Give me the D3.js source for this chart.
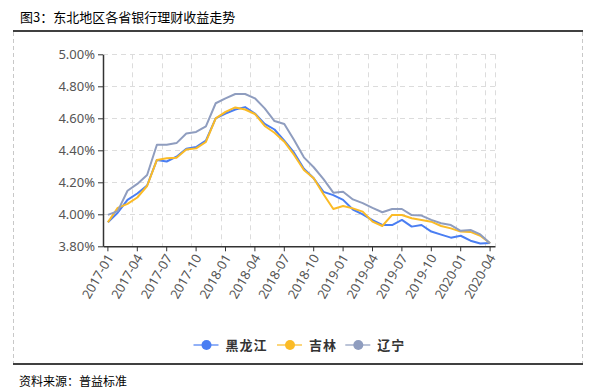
<!DOCTYPE html>
<html><head><meta charset="utf-8">
<script src="https://cdn.jsdelivr.net/npm/d3@7/dist/d3.min.js"></script>
<style>
html,body{margin:0;padding:0;background:#fff;}
svg{display:block;}
text{font-family:"Noto Sans CJK SC","Noto Sans",sans-serif;}
</style></head>
<body>
<svg id="c" width="595" height="392"></svg>
<script>
const months = [];
for (let yr = 2017; yr <= 2020; yr++) for (let m = 1; m <= 12; m++) {
  if (yr === 2020 && m > 4) break;
  months.push(yr + "-" + String(m).padStart(2, "0"));
}
const seriesNames = ["黑龙江", "吉林", "辽宁"];
const heilongjiang = [3.95,4.01,4.09,4.13,4.18,4.34,4.33,4.36,4.41,4.42,4.46,4.60,4.63,4.655,4.67,4.63,4.565,4.53,4.46,4.385,4.285,4.225,4.14,4.12,4.09,4.03,4.00,3.963,3.933,3.933,3.965,3.923,3.933,3.892,3.873,3.854,3.866,3.835,3.817,3.82];
const jilin = [3.95,4.04,4.065,4.105,4.177,4.34,4.35,4.354,4.405,4.412,4.452,4.60,4.64,4.668,4.655,4.627,4.552,4.51,4.454,4.371,4.277,4.225,4.125,4.033,4.052,4.037,4.017,3.954,3.927,3.996,3.996,3.975,3.965,3.954,3.927,3.912,3.892,3.89,3.866,3.819];
const liaoning = [3.996,4.02,4.147,4.19,4.246,4.435,4.435,4.445,4.505,4.515,4.55,4.694,4.725,4.752,4.752,4.725,4.662,4.583,4.564,4.464,4.356,4.294,4.22,4.135,4.141,4.093,4.07,4.04,4.013,4.033,4.033,3.995,3.992,3.965,3.944,3.933,3.897,3.902,3.874,3.819];
const yTicks = [3.8,4.0,4.2,4.4,4.6,4.8,5.0];
const colors = ["#4a7ef2", "#fbbb26", "#8f9dbf"];
const title = "图3：东北地区各省银行理财收益走势";
const source = "资料来源：普益标准";

const svg = d3.select("#c");
const L = 103, R = 495, T = 54.3, B = 246.3;
const x = d3.scaleBand().domain(months).range([L, R]).paddingInner(0).paddingOuter(0);
const y = d3.scaleLinear().domain([3.8, 5.0]).range([B, T]);
const cx = d => x(d) + x.bandwidth() / 2;

// frame
svg.append("line").attr("x1",13).attr("x2",583).attr("y1",31).attr("y2",31).attr("stroke","#000").attr("stroke-width",1.5);
svg.append("line").attr("x1",13).attr("x2",583).attr("y1",364).attr("y2",364).attr("stroke","#000").attr("stroke-width",1.5);
[13.5, 582.5].forEach(xx => svg.append("line").attr("x1",xx).attr("x2",xx).attr("y1",32).attr("y2",363)
  .attr("stroke","#c8c8c8").attr("stroke-dasharray","4,3"));

svg.append("text").attr("x",20).attr("y",22).attr("font-size",13).attr("fill","#000").text(title);
svg.append("text").attr("x",19).attr("y",386).attr("font-size",12).attr("fill","#000").text(source);

// grid
const g = svg.append("g");
yTicks.filter(v => v > 3.8).forEach(v => g.append("line").attr("x1",L).attr("x2",R)
  .attr("y1",Math.round(y(v))+0.5).attr("y2",Math.round(y(v))+0.5)
  .attr("stroke","#dcdcdc").attr("stroke-dasharray","5,4"));
const gridIdx = d3.range(3, 40, 3).concat([40]);
gridIdx.forEach(i => {
  const xx = i < months.length ? x(months[i]) : R;
  g.append("line").attr("x1",Math.round(xx)+0.5).attr("x2",Math.round(xx)+0.5).attr("y1",T).attr("y2",B)
    .attr("stroke","#dcdcdc").attr("stroke-dasharray","5,4");
});

// axes
const yAxis = svg.append("g").attr("transform",`translate(${L},0)`)
  .call(d3.axisLeft(y).tickValues(yTicks).tickFormat(d => d.toFixed(2) + "%").tickSize(5).tickSizeOuter(0));
yAxis.select(".domain").attr("stroke","#333").attr("stroke-width",1.5);
yAxis.selectAll(".tick line").attr("stroke","#333");
yAxis.selectAll("text").attr("font-size",13).attr("fill","#555").attr("x",-8)
  .style("font-family","'Noto Sans',sans-serif");

const xTickVals = months.filter((d,i) => i % 3 === 0);
const xAxis = svg.append("g").attr("transform",`translate(0,${B})`)
  .call(d3.axisBottom(x).tickValues(xTickVals).tickSize(5).tickSizeOuter(0));
xAxis.select(".domain").attr("stroke","#333").attr("stroke-width",1.5);
xAxis.selectAll(".tick line").attr("stroke","#333");
xAxis.selectAll("text").attr("font-size",13).attr("fill","#555")
  .style("font-family","'Noto Sans',sans-serif")
  .attr("text-anchor","end").attr("x",0).attr("y",0).attr("dy","0.35em")
  .attr("transform","translate(2,9) rotate(-60)");

// lines
const data = [heilongjiang, jilin, liaoning];
const line = d3.line().x((d,i) => cx(months[i])).y(d => y(d));
data.forEach((s, k) => {
  svg.append("path").datum(s).attr("d", line).attr("fill","none")
    .attr("stroke", colors[k]).attr("stroke-width", 2).attr("stroke-linejoin","round");
});

// legend
const legX = [206.5, 290, 358.3];
const legY = 345;
seriesNames.forEach((n, k) => {
  const lg = svg.append("g");
  lg.append("line").attr("x1",legX[k]-13).attr("x2",legX[k]+12).attr("y1",legY).attr("y2",legY)
    .attr("stroke",colors[k]).attr("stroke-width",2).attr("opacity",0.6);
  lg.append("circle").attr("cx",legX[k]).attr("cy",legY).attr("r",5).attr("fill",colors[k]);
  lg.append("text").attr("x",legX[k]+19).attr("y",legY).attr("dy","0.36em")
    .attr("font-size",13).attr("font-weight","bold").attr("fill","#333").attr("letter-spacing",1).text(n);
});
</script>
</body></html>
